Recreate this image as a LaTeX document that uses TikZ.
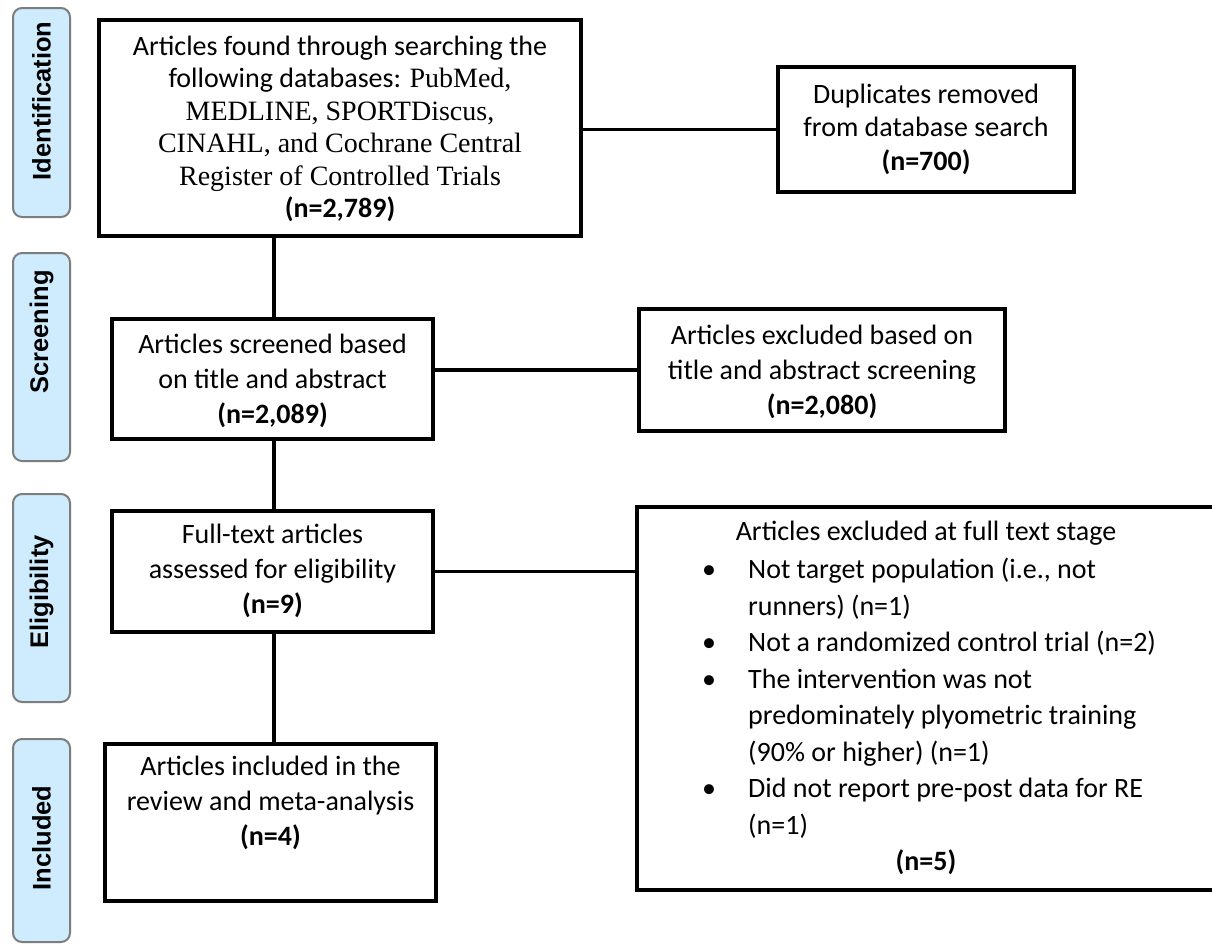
\documentclass[tikz,border=0pt]{standalone}
\usepackage{fontspec}
\setmainfont{Carlito}
\newfontfamily\tnr{Liberation Serif}
\newfontfamily\labfont{Liberation Sans}
\begin{document}
\begin{tikzpicture}[x=1pt,y=-1pt,
  box/.style={draw=black, line width=3.6pt, rectangle, inner sep=0pt, outer sep=0pt},
  txt/.style={align=center, font=\fontsize{28}{35}\selectfont, inner sep=0pt},
  phase/.style={draw={rgb,255:red,125;green,125;blue,125}, fill={rgb,255:red,206;green,236;blue,253}, line width=2pt, rounded corners=9pt, inner sep=0pt},
  phasetxt/.style={inner sep=0pt, font=\labfont\bfseries\fontsize{25.5}{30}\selectfont},
  conn/.style={line width=3.6pt}]
\useasboundingbox (0,0) rectangle (1212,945);

% phase labels
\node[phase, minimum width=57pt, minimum height=209pt] (p1) at (41.5,112.5) {};
\node[phasetxt] (p1t) at (41.5,101) {\rotatebox{90}{Identification}};
\node[phase, minimum width=57pt, minimum height=208pt] (p2) at (41.5,357) {};
\node[phasetxt] (p2t) at (41.5,332) {\rotatebox{90}{Screening}};
\node[phase, minimum width=57pt, minimum height=208pt] (p3) at (41.5,598) {};
\node[phasetxt] (p3t) at (41.5,592) {\rotatebox{90}{Eligibility}};
\node[phase, minimum width=57pt, minimum height=203pt] (p4) at (41.5,840.5) {};
\node[phasetxt] (p4t) at (41.5,838) {\rotatebox{90}{Included}};

% main boxes
\node[box, minimum width=482pt, minimum height=216pt] (b1) at (340,128) {};
\node[txt, font=\fontsize{28}{32.5}\selectfont] (b1t) at (340,129) {Articles found through searching the\\
following databases: {\tnr PubMed,}\\
{\tnr MEDLINE, SPORTDiscus,}\\
{\tnr CINAHL, and Cochrane Central}\\
{\tnr Register of Controlled Trials}\\
\textbf{(n=2,789)}};

\node[box, minimum width=296pt, minimum height=125pt] (dup) at (926,129.5) {};
\node[txt, font=\fontsize{28}{33.5}\selectfont] (dupt) at (926,129) {Duplicates removed\\from database search\\\textbf{(n=700)}};

\node[box, minimum width=321pt, minimum height=120pt] (b2) at (272.5,379) {};
\node[txt] (b2t) at (272.5,381) {Articles screened based\\on title and abstract\\\textbf{(n=2,089)}};

\node[box, minimum width=366pt, minimum height=122pt] (ex2) at (822,370) {};
\node[txt] (ex2t) at (822,372) {Articles excluded based on\\title and abstract screening\\\textbf{(n=2,080)}};

\node[box, minimum width=321pt, minimum height=121pt] (b3) at (272.5,571.5) {};
\node[txt] (b3t) at (272.5,571) {Full-text articles\\assessed for eligibility\\\textbf{(n=9)}};

\node[box, minimum width=577pt, minimum height=383pt] (ex3) at (925.5,698.5) {};
\node[txt] (ex3t) at (926,533) {Articles excluded at full text stage};
\node[inner sep=0pt, anchor=north west, align=left, font=\fontsize{28}{36.5}\selectfont] (ex3l) at (702,558)
{\makebox[46pt][l]{\textbullet}Not target population (i.e., not\\
\hspace*{46pt}runners) (n=1)\\
\makebox[46pt][l]{\textbullet}Not a randomized control trial (n=2)\\
\makebox[46pt][l]{\textbullet}The intervention was not\\
\hspace*{46pt}predominately plyometric training\\
\hspace*{46pt}(90\% or higher) (n=1)\\
\makebox[46pt][l]{\textbullet}Did not report pre-post data for RE\\
\hspace*{46pt}(n=1)};
\node[txt] (ex3n) at (926,862) {\textbf{(n=5)}};

\node[box, minimum width=331pt, minimum height=157pt] (b4) at (270.5,822.5) {};
\node[txt] (b4t) at (270.5,803) {Articles included in the\\review and meta-analysis\\\textbf{(n=4)}};

% connectors
\draw[conn] (dup.west -| b1.east) -- (dup.west);
\draw[conn] (ex2.west -| b2.east) -- (ex2.west);
\draw[conn] (b3.east) -- (b3.east -| ex3.west);
\draw[conn] (b2.north -| 274,0) -- (b1.south -| 274,0);
\draw[conn] (b3.north -| 274,0) -- (b2.south -| 274,0);
\draw[conn] (b4.north -| 274,0) -- (b3.south -| 274,0);
\end{tikzpicture}
\end{document}
